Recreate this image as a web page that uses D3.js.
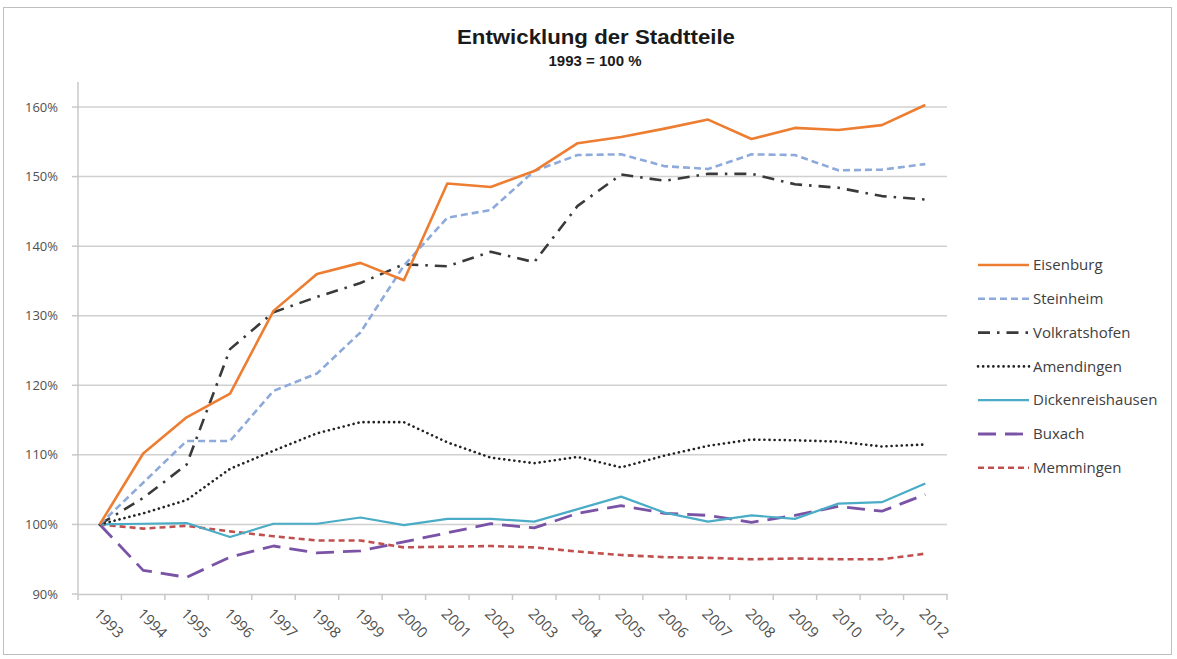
<!DOCTYPE html>
<html>
<head>
<meta charset="utf-8">
<script src="https://cdn.jsdelivr.net/npm/d3@7"></script>
<style>
  body { margin: 0; background: #fff; }
  svg { display: block; }
</style>
</head>
<body>
<div id="chart"></div>
<script>
'use strict';

var years = ['1993', '1994', '1995', '1996', '1997', '1998', '1999', '2000', '2001', '2002',
  '2003', '2004', '2005', '2006', '2007', '2008', '2009', '2010', '2011', '2012'];

var eisenburg = [100, 110.2, 115.4, 118.8, 130.7, 136.0, 137.6, 135.1, 149.0, 148.5,
  150.8, 154.8, 155.7, 156.9, 158.2, 155.4, 157.0, 156.7, 157.4, 160.3];
var steinheim = [100, 106.0, 112.0, 112.0, 119.2, 121.7, 127.6, 137.2, 144.1, 145.2,
  150.8, 153.1, 153.2, 151.5, 151.1, 153.2, 153.1, 150.9, 151.0, 151.8];
var volkratshofen = [100, 103.8, 108.6, 125.2, 130.5, 132.7, 134.7, 137.4, 137.1, 139.2,
  137.7, 145.8, 150.3, 149.4, 150.4, 150.4, 148.9, 148.4, 147.2, 146.7];
var amendingen = [100, 101.6, 103.5, 108.0, 110.6, 113.1, 114.7, 114.7, 111.8, 109.6,
  108.8, 109.7, 108.2, 109.9, 111.3, 112.2, 112.1, 111.9, 111.2, 111.5];
var dickenreishausen = [100, 100.1, 100.2, 98.2, 100.1, 100.1, 101.0, 99.9, 100.8, 100.8,
  100.4, 102.2, 104.0, 101.7, 100.4, 101.3, 100.8, 103.0, 103.2, 105.9];
var buxach = [100, 93.4, 92.4, 95.3, 96.9, 95.9, 96.2, 97.5, 98.8, 100.1,
  99.5, 101.6, 102.7, 101.6, 101.3, 100.3, 101.3, 102.6, 101.9, 104.3];
var memmingen = [100, 99.4, 99.8, 99.0, 98.3, 97.7, 97.7, 96.7, 96.8, 96.9,
  96.7, 96.1, 95.6, 95.3, 95.2, 95.0, 95.1, 95.0, 95.0, 95.8];

var seriesNames = ['Eisenburg', 'Steinheim', 'Volkratshofen', 'Amendingen',
  'Dickenreishausen', 'Buxach', 'Memmingen'];
var yTicks = [90, 100, 110, 120, 130, 140, 150, 160];

var styles = {
  Eisenburg: { color: '#ed7d31', width: 2.6, dash: null, cap: 'butt' },
  Steinheim: { color: '#8eaadb', width: 2.6, dash: '7,4', cap: 'butt' },
  Volkratshofen: { color: '#3a3a3a', width: 2.6, dash: '12,7,2.5,7', cap: 'butt' },
  Amendingen: { color: '#222', width: 2.6, dash: '0.1,5', cap: 'round' },
  Dickenreishausen: { color: '#4aacc6', width: 2.2, dash: null, cap: 'butt' },
  Buxach: { color: '#7a52a6', width: 2.8, dash: '18,9', cap: 'butt' },
  Memmingen: { color: '#c0504d', width: 2.6, dash: '6,4', cap: 'butt' }
};

var seriesData = [eisenburg, steinheim, volkratshofen, amendingen, dickenreishausen, buxach, memmingen];
var series = seriesNames.map(function(name, i) {
  return { key: name, values: seriesData[i] };
});

var width = 1177, height = 659;
var plot = { left: 78, right: 947, top: 82, bottom: 594 };

var svg = d3.select('#chart').append('svg')
  .attr('width', width)
  .attr('height', height)
  .style('font-family', '"Liberation Sans", Arial, sans-serif');

svg.append('rect')
  .attr('x', 3.5).attr('y', 7.5)
  .attr('width', 1168).attr('height', 647)
  .attr('fill', 'white')
  .attr('stroke', '#bfbfbf');

var x = d3.scaleBand().domain(years).range([plot.left, plot.right]);
var y = d3.scaleLinear().domain([90, 163.6]).range([plot.bottom, plot.top]);
var cx = function(i) { return x(years[i]) + x.bandwidth() / 2; };

// gridlines
svg.append('g').selectAll('line')
  .data(yTicks.slice(1))
  .enter().append('line')
  .attr('x1', plot.left).attr('x2', plot.right)
  .attr('y1', function(d) { return y(d); })
  .attr('y2', function(d) { return y(d); })
  .attr('stroke', '#d0d0d0')
  .attr('stroke-width', 1.5);

// y axis
svg.append('line')
  .attr('x1', plot.left).attr('x2', plot.left)
  .attr('y1', plot.top).attr('y2', plot.bottom)
  .attr('stroke', '#c8c8c8').attr('stroke-width', 1.5);

svg.append('g').selectAll('line')
  .data(yTicks)
  .enter().append('line')
  .attr('x1', plot.left - 6).attr('x2', plot.left)
  .attr('y1', function(d) { return y(d); })
  .attr('y2', function(d) { return y(d); })
  .attr('stroke', '#c8c8c8').attr('stroke-width', 1.5);

svg.append('g').selectAll('text')
  .data(yTicks)
  .enter().append('text')
  .attr('x', plot.left - 20)
  .attr('y', function(d) { return y(d); })
  .attr('dy', '0.35em')
  .attr('text-anchor', 'end')
  .attr('font-family', '"Open Sans", sans-serif')
  .attr('font-size', 13)
  .attr('fill', '#505050')
  .text(function(d) { return d + '%'; });

// x axis
var xAxis = d3.axisBottom(x).tickSize(0).tickFormat('');
svg.append('g')
  .attr('transform', 'translate(0,' + plot.bottom + ')')
  .call(xAxis)
  .select('.domain')
  .attr('stroke', '#c8c8c8').attr('stroke-width', 1.5);

var bounds = years.map(function(d) { return x(d); }).concat([plot.right]);
svg.append('g').selectAll('line')
  .data(bounds)
  .enter().append('line')
  .attr('x1', function(d) { return d; })
  .attr('x2', function(d) { return d; })
  .attr('y1', plot.bottom).attr('y2', plot.bottom + 6)
  .attr('stroke', '#c8c8c8').attr('stroke-width', 1.5);

svg.append('g').selectAll('text')
  .data(years)
  .enter().append('text')
  .attr('transform', function(d, i) {
    return 'translate(' + (cx(i) - 3) + ',' + (plot.bottom + 17) + ') rotate(45)';
  })
  .attr('dy', '0.35em')
  .attr('font-family', '"Open Sans", sans-serif')
  .attr('font-size', 15)
  .attr('fill', '#505050')
  .text(function(d) { return d; });

// lines
var line = d3.line()
  .x(function(d, i) { return cx(i); })
  .y(function(d) { return y(d); });

svg.append('g').selectAll('path')
  .data(series.slice().reverse())
  .enter().append('path')
  .attr('d', function(s) { return line(s.values); })
  .attr('fill', 'none')
  .attr('stroke', function(s) { return styles[s.key].color; })
  .attr('stroke-width', function(s) { return styles[s.key].width; })
  .attr('stroke-dasharray', function(s) { return styles[s.key].dash; })
  .attr('stroke-linecap', function(s) { return styles[s.key].cap; })
  .attr('stroke-linejoin', 'round');

// legend
var legend = svg.append('g').selectAll('g')
  .data(series)
  .enter().append('g')
  .attr('transform', function(d, i) { return 'translate(978,' + (265 + i * 33.8) + ')'; });

legend.append('line')
  .attr('x1', 0).attr('x2', 51)
  .attr('stroke', function(s) { return styles[s.key].color; })
  .attr('stroke-width', function(s) { return styles[s.key].width; })
  .attr('stroke-dasharray', function(s) { return styles[s.key].dash; })
  .attr('stroke-linecap', function(s) { return styles[s.key].cap; });

legend.append('text')
  .attr('x', 55)
  .attr('dy', '0.35em')
  .attr('font-family', '"Open Sans", sans-serif')
  .attr('font-size', 15)
  .attr('fill', '#404040')
  .text(function(s) { return s.key; });

// title
svg.append('text')
  .attr('x', 596).attr('y', 44)
  .attr('text-anchor', 'middle')
  .attr('font-size', 20)
  .attr('font-weight', 'bold')
  .attr('fill', '#1a1a1a')
  .attr('textLength', 278)
  .attr('lengthAdjust', 'spacingAndGlyphs')
  .text('Entwicklung der Stadtteile');

svg.append('text')
  .attr('x', 595).attr('y', 66)
  .attr('text-anchor', 'middle')
  .attr('font-size', 15)
  .attr('font-weight', 'bold')
  .attr('fill', '#1a1a1a')
  .text('1993 = 100 %');
</script>
</body>
</html>
